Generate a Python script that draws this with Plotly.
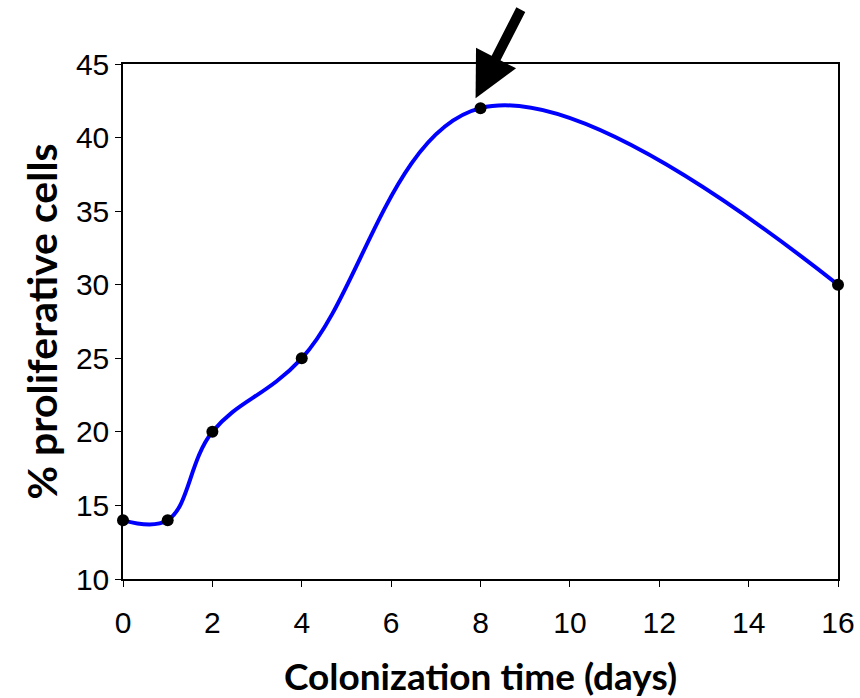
import plotly.graph_objects as go

days = [0, 1, 2, 4, 8, 16]
proliferative = [14, 14, 20, 25, 42, 30]
x_ticks = [0, 2, 4, 6, 8, 10, 12, 14, 16]
y_ticks = [10, 15, 20, 25, 30, 35, 40, 45]

fig = go.Figure()
fig.add_trace(go.Scatter(
    x=days, y=proliferative, mode="lines+markers",
    line=dict(color="#0000FF", width=4, shape="spline", smoothing=1.1),
    marker=dict(color="black", size=12),
    showlegend=False, cliponaxis=False,
))

fig.add_annotation(
    x=7.89, y=42.68, xref="x", yref="y", ax=46, ay=-90, axref="pixel", ayref="pixel",
    showarrow=True, arrowhead=2, arrowsize=0.9, arrowwidth=10, arrowcolor="black",
    standoff=0, text="",
)

fig.update_xaxes(
    range=[0, 16], tickvals=x_ticks, ticks="outside", ticklen=6, tickcolor="black",
    showline=True, linecolor="black", linewidth=1.5, mirror=True, showgrid=False, zeroline=False,
    automargin=False, ticklabeloverflow="allow", ticklabelstandoff=10,
    tickfont=dict(family="Liberation Sans, Arial", size=30, color="black"),
    title=dict(text="<b>Colonization time (days)</b>", standoff=35,
               font=dict(family="Lato, Open Sans", size=37, color="black")),
)
fig.update_yaxes(
    range=[10, 45], tickvals=y_ticks, ticks="outside", ticklen=6, tickcolor="black",
    showline=True, linecolor="black", linewidth=1.5, mirror=True, showgrid=False, zeroline=False,
    automargin=False,
    tickfont=dict(family="Liberation Sans, Arial", size=30, color="black"),
    title=dict(text="<b>% proliferative cells</b>", standoff=6,
               font=dict(family="Lato, Open Sans", size=41, color="black")),
)
fig.update_layout(
    width=860, height=698, margin=dict(l=123, r=22, t=64, b=119),
    paper_bgcolor="white", plot_bgcolor="white",
)
fig.write_html(
    "out.html",
    config={"displayModeBar": False},
    post_script="document.body.style.margin='0';",
)
